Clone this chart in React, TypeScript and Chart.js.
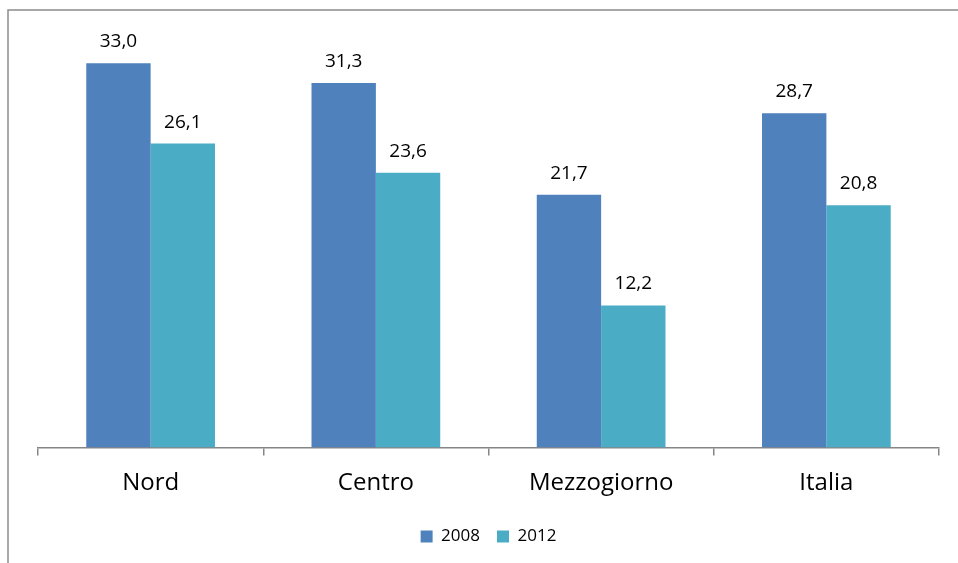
import React, { useEffect, useRef } from "react";
import { Chart, registerables } from "chart.js";

Chart.register(...registerables);

// Regional values, two survey years
const categories = ["Nord", "Centro", "Mezzogiorno", "Italia"];
const seriesNames = ["2008", "2012"];
const values2008 = [33.0, 31.3, 21.7, 28.7];
const values2012 = [26.1, 23.6, 12.2, 20.8];
const seriesColors = ["#4F81BD", "#4BACC6"];

const FONT = "'Open Sans', 'Noto Sans', sans-serif";

const fmt = (v: number) => v.toFixed(1).replace(".", ",");

// White background and the thin outer frame (top and left edges)
const framePlugin = {
  id: "frame",
  beforeDraw(chart: any) {
    const { ctx, width, height } = chart;
    ctx.save();
    ctx.fillStyle = "#ffffff";
    ctx.fillRect(0, 0, width, height);
    ctx.strokeStyle = "#8c8c8c";
    ctx.lineWidth = 1.5;
    ctx.beginPath();
    ctx.moveTo(8, height + 5);
    ctx.lineTo(8, 10);
    ctx.lineTo(width + 5, 10);
    ctx.stroke();
    ctx.restore();
  },
};

// Value labels above each bar
const valueLabelPlugin = {
  id: "valueLabels",
  afterDatasetsDraw(chart: any) {
    const { ctx } = chart;
    ctx.save();
    ctx.font = `19px ${FONT}`;
    ctx.fillStyle = "#000000";
    ctx.textAlign = "center";
    ctx.textBaseline = "alphabetic";
    chart.data.datasets.forEach((ds: any, i: number) => {
      chart.getDatasetMeta(i).data.forEach((bar: any, j: number) => {
        ctx.fillText(fmt(ds.data[j]), bar.x, bar.y - 16);
      });
    });
    ctx.restore();
  },
};

export default function App() {
  const canvasRef = useRef<HTMLCanvasElement | null>(null);

  useEffect(() => {
    if (!canvasRef.current) return;
    const chart = new Chart(canvasRef.current, {
      type: "bar",
      data: {
        labels: categories,
        datasets: [
          {
            label: seriesNames[0],
            data: values2008,
            backgroundColor: seriesColors[0],
            categoryPercentage: 2 / 3.5,
            barPercentage: 1,
          },
          {
            label: seriesNames[1],
            data: values2012,
            backgroundColor: seriesColors[1],
            categoryPercentage: 2 / 3.5,
            barPercentage: 1,
          },
        ],
      },
      options: {
        responsive: false,
        animation: false,
        layout: { padding: { left: 38, right: 19, top: 40, bottom: 8 } },
        scales: {
          x: {
            grid: {
              offset: true,
              drawOnChartArea: false,
              drawTicks: true,
              tickLength: 8,
              color: "#868686",
              lineWidth: 1.5,
            },
            border: { display: true, color: "#868686", width: 1.5 },
            ticks: {
              font: { family: FONT, size: 24 },
              color: "#000000",
              padding: 13,
            },
            afterFit: (scale: any) => {
              scale.height = 63.5;
            },
          },
          y: { display: false, min: 0, max: 35 },
        },
        plugins: {
          legend: {
            position: "bottom",
            labels: {
              boxWidth: 12,
              boxHeight: 12,
              padding: 17,
              color: "#000000",
              font: { family: FONT, size: 17 },
            },
          },
          tooltip: { enabled: false },
        },
      },
      plugins: [framePlugin, valueLabelPlugin],
    });
    return () => chart.destroy();
  }, []);

  return (
    <div style={{ position: "absolute", left: 0, top: 0, width: 958, height: 563 }}>
      <canvas ref={canvasRef} width={958} height={563} />
    </div>
  );
}
